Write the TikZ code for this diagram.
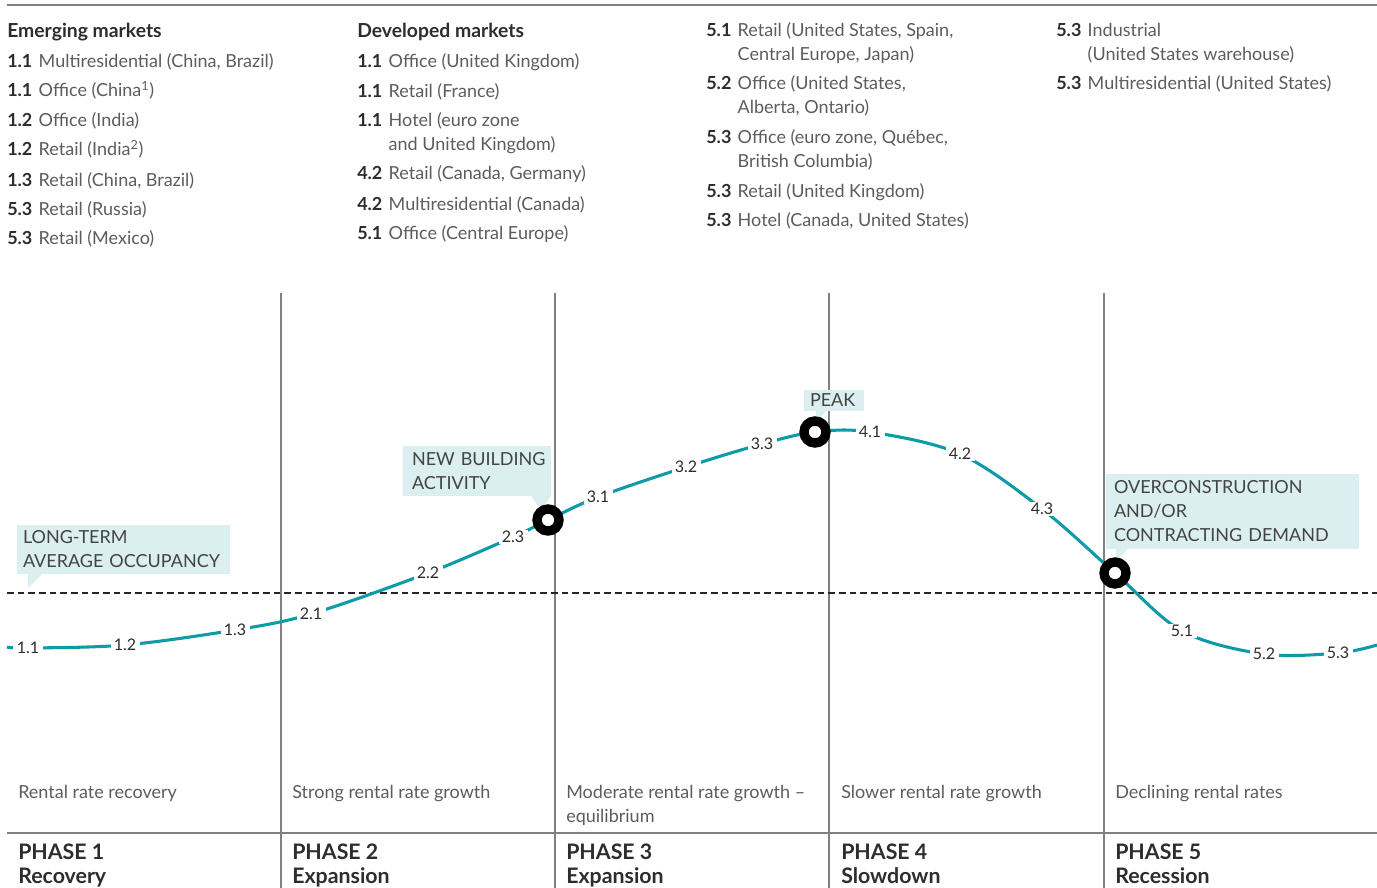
\documentclass[tikz,border=0pt]{standalone}
\usepackage{fontspec}
\setmainfont{Lato}
\usepackage{xcolor}
\definecolor{curveteal}{RGB}{14,155,167}
\definecolor{calloutfill}{RGB}{219,238,240}
\definecolor{txtgray}{RGB}{92,92,92}
\definecolor{darkgray}{RGB}{45,45,45}
\definecolor{callouttxt}{RGB}{68,68,68}
\definecolor{rulegray}{RGB}{128,128,128}

\newcommand{\mkitem}[2]{\makebox[23.6pt][l]{\textcolor{darkgray}{\bfseries #1}}#2}
\newcommand{\mkindent}{\hspace*{23.6pt}}

\tikzset{
  listtext/.style={anchor=base west, inner sep=0pt, align=left, text=txtgray, font=\fontsize{13.5}{18}\selectfont},
  listhead/.style={anchor=base west, inner sep=0pt, text=darkgray, font=\fontsize{14.5}{18}\selectfont\bfseries},
  phasename/.style={anchor=base west, inner sep=0pt, align=left, text=darkgray, font=\fontsize{16}{18}\selectfont\bfseries},
  curvelbl/.style={fill=white, inner xsep=2.5pt, inner ysep=1pt, text=darkgray, font=\fontsize{12}{12}\selectfont},
  callout/.style={anchor=north west, fill=calloutfill, outer sep=0pt, inner ysep=0pt, align=left, text=callouttxt, font=\fontsize{13.5}{18}\selectfont},
  ring/.style={circle, draw=black, fill=white, line width=7pt, minimum size=16.5pt, inner sep=0pt},
  separator/.style={draw=rulegray, line width=0.9pt},
}

\begin{document}
\begin{tikzpicture}[x=0.75pt,y=0.75pt,yscale=-1,xscale=1]
    \useasboundingbox (0,0) rectangle (1377,888);

    %Straight Lines: top rule
    \draw [draw=rulegray, line width=1.2pt] (7,5) -- (1377,5);

    % Text Node: emerging markets
    \node [listhead] (emhead) at (7,38) {Emerging markets};
    \node [listtext] (em1) at (7,68) {\mkitem{1.1}{Multiresidential (China, Brazil)}};
    \node [listtext] (em2) at (7,97) {\mkitem{1.1}{Office (China\textsuperscript{1})}};
    \node [listtext] (em3) at (7,127) {\mkitem{1.2}{Office (India)}};
    \node [listtext] (em4) at (7,156) {\mkitem{1.2}{Retail (India\textsuperscript{2})}};
    \node [listtext] (em5) at (7,186) {\mkitem{1.3}{Retail (China, Brazil)}};
    \node [listtext] (em6) at (7,215) {\mkitem{5.3}{Retail (Russia)}};
    \node [listtext] (em7) at (7,244) {\mkitem{5.3}{Retail (Mexico)}};

    % Text Node: developed markets (base = last line)
    \node [listhead] (dmhead) at (357,38) {Developed markets};
    \node [listtext] (dm1) at (357,68) {\mkitem{1.1}{Office (United Kingdom)}};
    \node [listtext] (dm2) at (357,98) {\mkitem{1.1}{Retail (France)}};
    \node [listtext] (dm3) at (357,151) {\mkitem{1.1}{Hotel (euro zone}\\\mkindent and United Kingdom)};
    \node [listtext] (dm4) at (357,180) {\mkitem{4.2}{Retail (Canada, Germany)}};
    \node [listtext] (dm5) at (357,210) {\mkitem{4.2}{Multiresidential (Canada)}};
    \node [listtext] (dm6) at (357,239) {\mkitem{5.1}{Office (Central Europe)}};

    % Text Node: third column
    \node [listtext] (tc1) at (706,61) {\mkitem{5.1}{Retail (United States, Spain,}\\\mkindent Central Europe, Japan)};
    \node [listtext] (tc2) at (706,114) {\mkitem{5.2}{Office (United States,}\\\mkindent Alberta, Ontario)};
    \node [listtext] (tc3) at (706,168) {\mkitem{5.3}{Office (euro zone, Québec,}\\\mkindent British Columbia)};
    \node [listtext] (tc4) at (706,197) {\mkitem{5.3}{Retail (United Kingdom)}};
    \node [listtext] (tc5) at (706,226) {\mkitem{5.3}{Hotel (Canada, United States)}};

    % Text Node: fourth column
    \node [listtext] (fc1) at (1056,61) {\mkitem{5.3}{Industrial}\\\mkindent (United States warehouse)};
    \node [listtext] (fc2) at (1056,90) {\mkitem{5.3}{Multiresidential (United States)}};

    %Straight Lines: phase separators
    \draw [separator] (281,293) -- (281,888);
    \draw [separator] (555,293) -- (555,888);
    \draw [separator] (829,293) -- (829,888);
    \draw [separator] (1104,293) -- (1104,888);
    \draw [separator] (7,833) -- (1377,833);

    %Straight Lines: long-term average
    \draw [draw=black!85, line width=0.8pt, dash pattern=on 5pt off 3pt] (7,593) -- (1377,593);

    %Shape: cycle curve
    \draw [curveteal, line width=2.3pt] plot [smooth, tension=0.55] coordinates {
      (7,647) (28,648) (125,645) (235,630) (311,614) (428,573) (513,537) (548,520)
      (598,497) (686,467) (762,444) (815,432) (870,432) (960,454) (1042,509)
      (1115,573) (1182,631) (1264,654) (1338,653) (1377,645)};

    % Text Node: curve labels
    \node [curvelbl] (c11) at (28,648) {1.1};
    \node [curvelbl] (c12) at (125,645) {1.2};
    \node [curvelbl] (c13) at (235,630) {1.3};
    \node [curvelbl] (c21) at (311,614) {2.1};
    \node [curvelbl] (c22) at (428,573) {2.2};
    \node [curvelbl] (c23) at (513,537) {2.3};
    \node [curvelbl] (c31) at (598,497) {3.1};
    \node [curvelbl] (c32) at (686,467) {3.2};
    \node [curvelbl] (c33) at (762,444) {3.3};
    \node [curvelbl] (c41) at (870,432) {4.1};
    \node [curvelbl] (c42) at (960,454) {4.2};
    \node [curvelbl] (c43) at (1042,509) {4.3};
    \node [curvelbl] (c51) at (1182,631) {5.1};
    \node [curvelbl] (c52) at (1264,654) {5.2};
    \node [curvelbl] (c53) at (1338,653) {5.3};

    %Shape: callouts
    \node [callout, inner xsep=4.5pt, text width=150.75pt, minimum height=36.75pt] (ltavg) at (17,525) {LONG-TERM\\AVERAGE OCCUPANCY};
    \fill [calloutfill] ([shift={(11,0)}]ltavg.south west) -- ++(14,0) -- ++(-14,14) -- cycle;
    \node [callout, inner xsep=6.75pt, text width=97.5pt, minimum height=37.5pt] (newbld) at (403,446) {\mbox{NEW BUILDING}\\ACTIVITY};
    \fill [calloutfill] ([shift={(-20,0)}]newbld.south east) -- ++(20,0) -- ++(-10,14) -- cycle;
    \node [callout, inner xsep=4.5pt, text width=36pt, minimum height=15.75pt] (peak) at (804,390) {PEAK};
    \fill [calloutfill] ([shift={(12,0)}]peak.south west) -- ++(10,0) -- ++(-10,12) -- cycle;
    \node [callout, inner xsep=6pt, text width=177.75pt, minimum height=56.25pt] (overc) at (1106,474) {OVERCONSTRUCTION\\AND/OR\\CONTRACTING DEMAND};
    \fill [calloutfill] ([shift={(10,0)}]overc.south west) -- ++(11,0) -- ++(-11,13) -- cycle;

    %Shape: rings
    \node [ring] (mkbuild) at (548,520) {};
    \node [ring] (mkpeak) at (815,432) {};
    \node [ring] (mkover) at (1115,573) {};

    % Text Node: phase descriptions
    \node [listtext] (pd1) at (18,798) {Rental rate recovery};
    \node [listtext] (pd2) at (292,798) {Strong rental rate growth};
    \node [listtext] (pd3) at (566,822) {Moderate rental rate growth --\\equilibrium};
    \node [listtext] (pd4) at (841,798) {Slower rental rate growth};
    \node [listtext] (pd5) at (1115,798) {Declining rental rates};

    % Text Node: phase names
    \node [phasename] (ph1) at (18,883) {PHASE 1\\Recovery};
    \node [phasename] (ph2) at (292,883) {PHASE 2\\Expansion};
    \node [phasename] (ph3) at (566,883) {PHASE 3\\Expansion};
    \node [phasename] (ph4) at (841,883) {PHASE 4\\Slowdown};
    \node [phasename] (ph5) at (1115,883) {PHASE 5\\Recession};

\end{tikzpicture}
\end{document}
